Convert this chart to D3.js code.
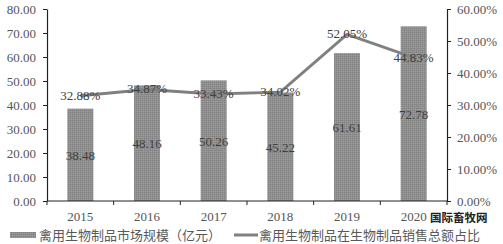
<!DOCTYPE html>
<html>
<head>
<meta charset="utf-8">
<script src="https://cdn.jsdelivr.net/npm/d3@7"></script>
<style>
  body { margin: 0; background: #fff; }
  svg { display: block; }
</style>
</head>
<body>
<div id="chart"></div>
<script>
var years = ["2015", "2016", "2017", "2018", "2019", "2020"];
var marketSize = [38.48, 48.16, 50.26, 45.22, 61.61, 72.78];
var shareRatio = [32.88, 34.87, 33.43, 34.02, 52.05, 44.83];
var leftTicks = [0, 10, 20, 30, 40, 50, 60, 70, 80];
var rightTicks = [0, 10, 20, 30, 40, 50, 60];
var legendNames = ["禽用生物制品市场规模（亿元）", "禽用生物制品在生物制品销售总额占比"];

var svgWidth = 503;
var svgHeight = 244;

var margin = { top: 9, right: 56, bottom: 43, left: 47 };
var width = svgWidth - margin.left - margin.right;
var height = svgHeight - margin.top - margin.bottom;

var numFont = "'Liberation Serif', 'DejaVu Serif', serif";
var cjkFont = "'Noto Sans CJK SC', sans-serif";

var svg = d3.select("#chart").append("svg")
            .attr("width", svgWidth)
            .attr("height", svgHeight);

var defs = svg.append("defs");
var pat = defs.append("pattern")
              .attr("id", "dots")
              .attr("width", 2)
              .attr("height", 2)
              .attr("patternUnits", "userSpaceOnUse");
pat.append("rect").attr("width", 2).attr("height", 2).attr("fill", "#8e8e8e");
pat.append("rect").attr("width", 1).attr("height", 1).attr("fill", "#9c9c9c");
pat.append("rect").attr("x", 1).attr("y", 1).attr("width", 1).attr("height", 1).attr("fill", "#828282");

var chartGroup = svg.append("g")
                    .attr("transform", `translate(${margin.left}, ${margin.top})`);

var x = d3.scaleBand()
          .domain(years)
          .range([0, width])
          .paddingInner(0.61)
          .paddingOuter(0.305);

var yLeft = d3.scaleLinear().domain([0, 80]).range([height, 0]);
var yRight = d3.scaleLinear().domain([0, 60]).range([height, 0]);

// bars
chartGroup.selectAll(".bar")
          .data(marketSize)
          .enter()
          .append("rect")
          .attr("class", "bar")
          .attr("x", (d, i) => x(years[i]))
          .attr("y", d => yLeft(d))
          .attr("width", x.bandwidth())
          .attr("height", d => height - yLeft(d))
          .attr("fill", "url(#dots)");

// axes
var leftAxis = d3.axisLeft(yLeft)
                 .tickValues(leftTicks)
                 .tickFormat(d3.format(".2f"))
                 .tickSize(4)
                 .tickSizeOuter(0)
                 .tickPadding(7);

var rightAxis = d3.axisRight(yRight)
                  .tickValues(rightTicks)
                  .tickFormat(d => d3.format(".2f")(d) + "%")
                  .tickSize(4)
                  .tickSizeOuter(0)
                  .tickPadding(6);

var gl = chartGroup.append("g").call(leftAxis);
var gr = chartGroup.append("g").attr("transform", `translate(${width}, 0)`).call(rightAxis);

[gl, gr].forEach(function(g) {
    g.select(".domain").attr("stroke", "#222").attr("stroke-width", 1.2);
    g.selectAll(".tick line").attr("stroke", "#222");
    g.selectAll("text")
     .attr("fill", "#555")
     .style("font-family", numFont)
     .style("font-size", "13px");
});

// x axis with ticks at category boundaries
var boundaries = d3.range(years.length + 1).map(i => i * x.step());
var gx = chartGroup.append("g").attr("transform", `translate(0, ${height})`);
gx.append("line")
  .attr("x1", 0).attr("x2", width)
  .attr("stroke", "#222").attr("stroke-width", 1.2);
gx.selectAll(".bt")
  .data(boundaries)
  .enter()
  .append("line")
  .attr("x1", d => d).attr("x2", d => d)
  .attr("y1", 0).attr("y2", 4)
  .attr("stroke", "#222");
gx.selectAll(".yl")
  .data(years)
  .enter()
  .append("text")
  .attr("x", d => x(d) + x.bandwidth() / 2)
  .attr("y", 20)
  .attr("text-anchor", "middle")
  .attr("fill", "#555")
  .style("font-family", numFont)
  .style("font-size", "13px")
  .text(d => d);

// line
var line = d3.line()
             .x((d, i) => x(years[i]) + x.bandwidth() / 2)
             .y(d => yRight(d));

chartGroup.append("path")
          .datum(shareRatio)
          .attr("d", line)
          .attr("fill", "none")
          .attr("stroke", "#808080")
          .attr("stroke-width", 3);

// bar value labels
chartGroup.selectAll(".barLabel")
          .data(marketSize)
          .enter()
          .append("text")
          .attr("x", (d, i) => x(years[i]) + x.bandwidth() / 2)
          .attr("y", d => (yLeft(d) + height) / 2 + 5)
          .attr("text-anchor", "middle")
          .attr("fill", "#404040")
          .style("font-family", numFont)
          .style("font-size", "13px")
          .text(d => d3.format(".2f")(d));

// line value labels
chartGroup.selectAll(".lineLabel")
          .data(shareRatio)
          .enter()
          .append("text")
          .attr("x", (d, i) => x(years[i]) + x.bandwidth() / 2)
          .attr("y", d => yRight(d) + 4)
          .attr("text-anchor", "middle")
          .attr("fill", "#404040")
          .style("font-family", numFont)
          .style("font-size", "13px")
          .text(d => d3.format(".2f")(d) + "%");

// legend
var legend = svg.append("g").attr("transform", "translate(0, 235)");
legend.append("rect")
      .attr("x", 10).attr("y", -3)
      .attr("width", 26).attr("height", 6)
      .attr("fill", "url(#dots)");
legend.append("text")
      .attr("x", 39).attr("y", 5)
      .attr("fill", "#595959")
      .style("font-family", cjkFont)
      .style("font-size", "13px")
      .text(legendNames[0]);
legend.append("line")
      .attr("x1", 234).attr("x2", 258)
      .attr("stroke", "#808080")
      .attr("stroke-width", 3);
legend.append("text")
      .attr("x", 259).attr("y", 5)
      .attr("fill", "#595959")
      .style("font-family", cjkFont)
      .style("font-size", "13px")
      .text(legendNames[1]);

// watermark
svg.append("text")
   .attr("x", 430).attr("y", 222)
   .attr("fill", "#222")
   .attr("stroke", "#fff")
   .attr("stroke-width", 2)
   .attr("paint-order", "stroke")
   .style("font-family", cjkFont)
   .style("font-size", "11.5px")
   .style("font-weight", "bold")
   .text("国际畜牧网");
</script>
</body>
</html>
